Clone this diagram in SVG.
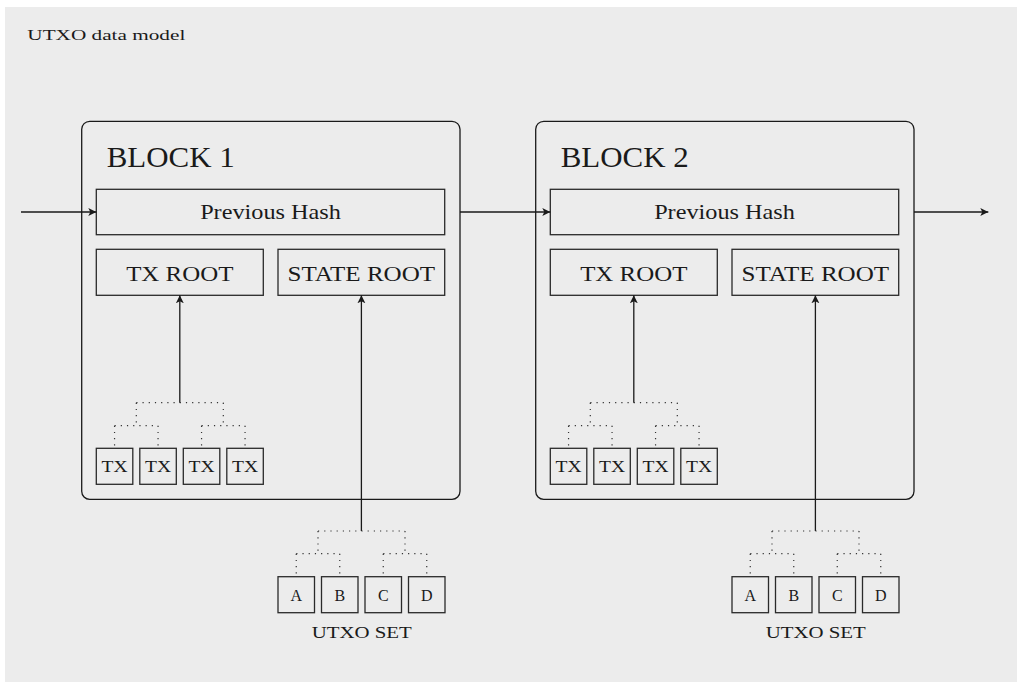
<svg xmlns="http://www.w3.org/2000/svg" width="1017" height="682" viewBox="0 0 1017 682">
<defs>
<marker id="ah" markerUnits="userSpaceOnUse" markerWidth="10" markerHeight="10" refX="8" refY="4" orient="auto">
<path d="M0,0 L8,4 L0,8 L2,4 Z" fill="#1a1a1a"/>
</marker>
<style>
.bg{fill:#ececec}
.block{fill:none;stroke:#1a1a1a;stroke-width:1.3}
.box{fill:none;stroke:#2a2a2a;stroke-width:1.3}
.t{font-family:"Liberation Serif","Times New Roman",serif;fill:#1a1a1a}
.big{font-size:29px}
.mid{font-size:21px}
.sm{font-size:16px}
.xs{font-size:14px}
.arrow{fill:none;stroke:#1a1a1a;stroke-width:1.3;marker-end:url(#ah)}
.dot{fill:none;stroke:#333;stroke-width:1.2;stroke-dasharray:1.2 5}
</style>
</defs>
<rect class="bg" x="5" y="7" width="1012" height="675"/>
<text class="t xs" x="27.3" y="40" textLength="158" lengthAdjust="spacingAndGlyphs">UTXO data model</text>

<g id="block1">
<rect class="block" x="81.7" y="121.3" width="378.3" height="378" rx="8"/>
<text class="t big" x="106.7" y="166.7" textLength="128" lengthAdjust="spacingAndGlyphs">BLOCK 1</text>
</g>
<g id="prevhash1">
<rect class="box" x="96.3" y="189.3" width="348.4" height="45.4"/>
<text class="t mid" x="270.5" y="219" text-anchor="middle" textLength="140.7" lengthAdjust="spacingAndGlyphs">Previous Hash</text>
</g>
<g id="txroot1">
<rect class="box" x="96.3" y="249.3" width="167" height="46"/>
<text class="t mid" x="179.8" y="281" text-anchor="middle" textLength="107.3" lengthAdjust="spacingAndGlyphs">TX ROOT</text>
</g>
<g id="stateroot1">
<rect class="box" x="278" y="249.3" width="166.7" height="46"/>
<text class="t mid" x="361.3" y="281" text-anchor="middle" textLength="147.7" lengthAdjust="spacingAndGlyphs">STATE ROOT</text>
</g>
<g id="tx1a"><rect class="box" x="96.3" y="448.3" width="36.5" height="36"/><text class="t sm" x="114.55" y="472.3" text-anchor="middle" textLength="26" lengthAdjust="spacingAndGlyphs">TX</text></g>
<g id="tx1b"><rect class="box" x="139.8" y="448.3" width="36.5" height="36"/><text class="t sm" x="158.05" y="472.3" text-anchor="middle" textLength="26" lengthAdjust="spacingAndGlyphs">TX</text></g>
<g id="tx1c"><rect class="box" x="183.3" y="448.3" width="36.5" height="36"/><text class="t sm" x="201.55" y="472.3" text-anchor="middle" textLength="26" lengthAdjust="spacingAndGlyphs">TX</text></g>
<g id="tx1d"><rect class="box" x="226.8" y="448.3" width="36.5" height="36"/><text class="t sm" x="245.05" y="472.3" text-anchor="middle" textLength="26" lengthAdjust="spacingAndGlyphs">TX</text></g>
<g id="utxo1a"><rect class="box" x="278" y="576.7" width="36.5" height="36"/><text class="t sm" x="296.25" y="601" text-anchor="middle">A</text></g>
<g id="utxo1b"><rect class="box" x="321.5" y="576.7" width="36.5" height="36"/><text class="t sm" x="339.75" y="601" text-anchor="middle">B</text></g>
<g id="utxo1c"><rect class="box" x="365" y="576.7" width="36.5" height="36"/><text class="t sm" x="383.25" y="601" text-anchor="middle">C</text></g>
<g id="utxo1d"><rect class="box" x="408.5" y="576.7" width="36.5" height="36"/><text class="t sm" x="426.75" y="601" text-anchor="middle">D</text></g>
<g id="utxoset1"><text class="t sm" x="361.7" y="638.3" text-anchor="middle" textLength="100" lengthAdjust="spacingAndGlyphs">UTXO SET</text></g>

<g id="block2">
<rect class="block" x="535.7" y="121.3" width="378.3" height="378" rx="8"/>
<text class="t big" x="560.7" y="166.7" textLength="128" lengthAdjust="spacingAndGlyphs">BLOCK 2</text>
</g>
<g id="prevhash2">
<rect class="box" x="550.3" y="189.3" width="348.4" height="45.4"/>
<text class="t mid" x="724.5" y="219" text-anchor="middle" textLength="140.7" lengthAdjust="spacingAndGlyphs">Previous Hash</text>
</g>
<g id="txroot2">
<rect class="box" x="550.3" y="249.3" width="167" height="46"/>
<text class="t mid" x="633.8" y="281" text-anchor="middle" textLength="107.3" lengthAdjust="spacingAndGlyphs">TX ROOT</text>
</g>
<g id="stateroot2">
<rect class="box" x="732" y="249.3" width="166.7" height="46"/>
<text class="t mid" x="815.3" y="281" text-anchor="middle" textLength="147.7" lengthAdjust="spacingAndGlyphs">STATE ROOT</text>
</g>
<g id="tx2a"><rect class="box" x="550.3" y="448.3" width="36.5" height="36"/><text class="t sm" x="568.55" y="472.3" text-anchor="middle" textLength="26" lengthAdjust="spacingAndGlyphs">TX</text></g>
<g id="tx2b"><rect class="box" x="593.8" y="448.3" width="36.5" height="36"/><text class="t sm" x="612.05" y="472.3" text-anchor="middle" textLength="26" lengthAdjust="spacingAndGlyphs">TX</text></g>
<g id="tx2c"><rect class="box" x="637.3" y="448.3" width="36.5" height="36"/><text class="t sm" x="655.55" y="472.3" text-anchor="middle" textLength="26" lengthAdjust="spacingAndGlyphs">TX</text></g>
<g id="tx2d"><rect class="box" x="680.8" y="448.3" width="36.5" height="36"/><text class="t sm" x="699.05" y="472.3" text-anchor="middle" textLength="26" lengthAdjust="spacingAndGlyphs">TX</text></g>
<g id="utxo2a"><rect class="box" x="732" y="576.7" width="36.5" height="36"/><text class="t sm" x="750.25" y="601" text-anchor="middle">A</text></g>
<g id="utxo2b"><rect class="box" x="775.5" y="576.7" width="36.5" height="36"/><text class="t sm" x="793.75" y="601" text-anchor="middle">B</text></g>
<g id="utxo2c"><rect class="box" x="819" y="576.7" width="36.5" height="36"/><text class="t sm" x="837.25" y="601" text-anchor="middle">C</text></g>
<g id="utxo2d"><rect class="box" x="862.5" y="576.7" width="36.5" height="36"/><text class="t sm" x="880.75" y="601" text-anchor="middle">D</text></g>
<g id="utxoset2"><text class="t sm" x="815.7" y="638.3" text-anchor="middle" textLength="100" lengthAdjust="spacingAndGlyphs">UTXO SET</text></g>

<g id="connectors">
<path class="arrow" d="M21,212 H96.3"/>
<path class="arrow" d="M460,212 H550.3"/>
<path class="arrow" d="M914,212 H988.3"/>
<path class="arrow" d="M179.8,402.7 V295.3"/>
<path class="arrow" d="M361.4,531 V295.3"/>
<path class="arrow" d="M633.8,402.7 V295.3"/>
<path class="arrow" d="M815.4,531 V295.3"/>
<path class="dot" d="M136.3,402.7 H223.3 M136.3,402.7 V425.7 M223.3,402.7 V425.7 M114.55,425.7 H158.05 M201.55,425.7 H245.05 M114.55,425.7 V448.3 M158.05,425.7 V448.3 M201.55,425.7 V448.3 M245.05,425.7 V448.3"/>
<path class="dot" d="M318,531 H405 M318,531 V553.7 M405,531 V553.7 M296.25,553.7 H339.75 M383.25,553.7 H426.75 M296.25,553.7 V576.7 M339.75,553.7 V576.7 M383.25,553.7 V576.7 M426.75,553.7 V576.7"/>
<path class="dot" d="M590.3,402.7 H677.3 M590.3,402.7 V425.7 M677.3,402.7 V425.7 M568.55,425.7 H612.05 M655.55,425.7 H699.05 M568.55,425.7 V448.3 M612.05,425.7 V448.3 M655.55,425.7 V448.3 M699.05,425.7 V448.3"/>
<path class="dot" d="M772,531 H859 M772,531 V553.7 M859,531 V553.7 M750.25,553.7 H793.75 M837.25,553.7 H880.75 M750.25,553.7 V576.7 M793.75,553.7 V576.7 M837.25,553.7 V576.7 M880.75,553.7 V576.7"/>
</g>
</svg>
